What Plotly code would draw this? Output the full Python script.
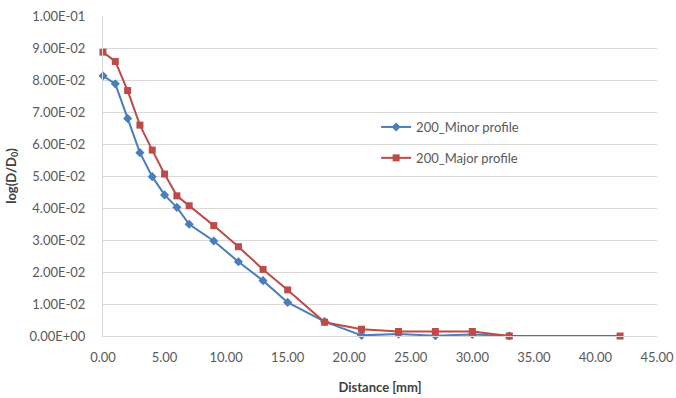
import plotly.graph_objects as go

# Distance from the surface [mm]
distance_minor = [0, 1, 2, 3, 4, 5, 6, 7, 9, 11, 13, 15, 18, 21, 24, 27, 30, 33]
distance_major = [0, 1, 2, 3, 4, 5, 6, 7, 9, 11, 13, 15, 18, 21, 24, 27, 30, 33, 42]

# log(D/D0) along each profile
minor_profile = [0.0813, 0.0788, 0.0680, 0.0573, 0.0498, 0.0441, 0.0402, 0.0349,
                 0.0297, 0.0232, 0.0173, 0.0105, 0.0045, 0.0002, 0.0006, 0.0001,
                 0.0005, 0.0000]
major_profile = [0.0887, 0.0858, 0.0767, 0.0659, 0.0581, 0.0506, 0.0438, 0.0407,
                 0.0345, 0.0279, 0.0208, 0.0144, 0.0043, 0.0021, 0.0014, 0.0014,
                 0.0014, 0.0000, 0.0000]

y_ticks = [0.0, 0.01, 0.02, 0.03, 0.04, 0.05, 0.06, 0.07, 0.08, 0.09, 0.10]
y_tick_text = [f"{v:.2E}" for v in y_ticks]
x_ticks = [0, 5, 10, 15, 20, 25, 30, 35, 40, 45]

BLUE = "#4a7ebb"
RED = "#be4b48"
GRID = "#d9d9d9"
TEXT = "#595959"
FONT = "Lato"

fig = go.Figure()
fig.add_trace(go.Scatter(
    x=distance_minor, y=minor_profile, mode="lines+markers",
    name="200_Minor profile", legendgroup="a", cliponaxis=False,
    line=dict(color=BLUE, width=2),
    marker=dict(symbol="diamond", size=7, color=BLUE),
))
fig.add_trace(go.Scatter(
    x=distance_major, y=major_profile, mode="lines+markers",
    name="200_Major profile", legendgroup="b", cliponaxis=False,
    line=dict(color=RED, width=2),
    marker=dict(symbol="square", size=7, color=RED),
))

fig.update_layout(
    width=676, height=398,
    margin=dict(l=103, r=19, t=16, b=62),
    paper_bgcolor="white", plot_bgcolor="white",
    font=dict(family=FONT, size=13, color=TEXT),
    legend=dict(
        x=0.493, y=0.70, xanchor="left", yanchor="top",
        bgcolor="rgba(0,0,0,0)", tracegroupgap=11,
        font=dict(family=FONT, size=13, color=TEXT),
    ),
    xaxis=dict(
        range=[0, 45], tickvals=x_ticks, tickformat=".2f",
        showgrid=False, zeroline=False, automargin=False,
        showline=True, linecolor=GRID, linewidth=1,
        ticks="", ticklabelstandoff=9,
        tickfont=dict(family=FONT, size=13, color=TEXT),
        title=dict(text="<b>Distance [mm]</b>", standoff=19,
                   font=dict(family=FONT, size=13, color="#404040")),
    ),
    yaxis=dict(
        range=[0, 0.1], tickvals=y_ticks, ticktext=y_tick_text,
        showgrid=True, gridcolor=GRID, gridwidth=1, zeroline=False,
        automargin=False,
        showline=True, linecolor=GRID, linewidth=1,
        ticks="", ticklabelstandoff=14,
        tickfont=dict(family=FONT, size=13, color=TEXT),
        title=dict(text="<b>log(D/D<sub>0</sub>)</b>", standoff=10,
                   font=dict(family=FONT, size=13, color="#404040")),
    ),
)

fig.write_html("out.html")
